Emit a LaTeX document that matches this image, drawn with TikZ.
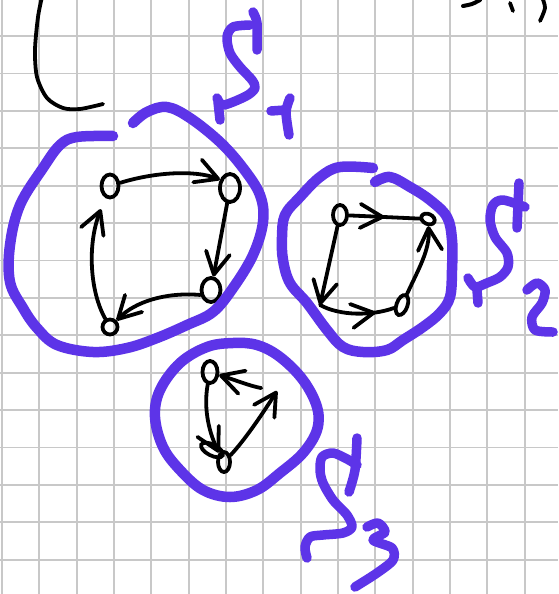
\documentclass[tikz,border=0pt]{standalone}
\usepackage{tikz}
\usetikzlibrary{arrows.meta,shapes.geometric,decorations.markings}
\definecolor{sccPurple}{RGB}{93,52,232}
\definecolor{paperGrid}{RGB}{200,200,200}

\begin{document}
\begin{tikzpicture}[x=1pt, y=1pt, yscale=-1,
  >={Straight Barb[length=22pt,width=24pt,round]},
  gridline/.style={paperGrid, line width=1.8pt},
  sccline/.style={sccPurple, line width=10.5pt, line cap=round, line join=round},
  penline/.style={sccPurple, line width=9.5pt, line cap=round, line join=round},
  inkline/.style={black, line width=3.8pt, line cap=round, line join=round},
  vtx/.style={draw, ellipse, line width=3.8pt, inner sep=0pt},
  arcline/.style={inkline, ->},
  midarc/.style={inkline, postaction={decorate},
    decoration={markings, mark=at position #1 with {\arrow{>}}}}]
  % Squared paper
  \fill[white] (0,0) rectangle (558,594);
  \useasboundingbox (0,0) rectangle (558,594);
  \clip (0,0) rectangle (558,594);
  \foreach \k in {0,...,14} \draw[gridline] ({1.96+37.34*\k},0) -- ({1.96+37.34*\k},594);
  \foreach \k in {1,...,15} \draw[gridline] (0,{-1.4+37.4*\k}) -- (558,{-1.4+37.4*\k});

  % Leftover ink at the top
  \draw[inkline] plot[smooth] coordinates {(42,-3) (38,17) (35,50) (37,77) (47,98) (63,108) (80,109) (103,104)};
  \draw[inkline, line width=4pt] plot[smooth] coordinates {(463,6) (472,4) (480,0)};
  \draw[inkline] (510,3) -- (513,11);
  \draw[inkline] plot[smooth] coordinates {(542,-3) (545,8) (540,21)};

  % S1: four vertices
  \node[vtx, minimum width=17pt, minimum height=23pt] (a1) at (110,186) {};
  \node[vtx, minimum width=20pt, minimum height=28pt] (b1) at (230,188) {};
  \node[vtx, minimum width=19pt, minimum height=24pt] (c1) at (211,290) {};
  \node[vtx, minimum width=15pt, minimum height=15pt] (d1) at (110,327) {};
  % S2: three vertices and a bare corner
  \node[vtx, minimum width=14pt, minimum height=20pt] (a2) at (340,215) {};
  \node[vtx, minimum width=14pt, minimum height=10pt, rotate=-25] (b2) at (428,219) {};
  \node[vtx, minimum width=11pt, minimum height=21pt, rotate=-20] (c2) at (402,305) {};
  \coordinate (d2) at (320,305);
  % S3: two vertices and a bare corner
  \node[vtx, minimum width=15pt, minimum height=22pt] (a3) at (210,372) {};
  \node[vtx, minimum width=12pt, minimum height=20pt] (b3) at (224,462) {};
  \node[vtx, minimum width=24pt, minimum height=11pt, rotate=-27] (b3loop) at (212,450) {};
  \coordinate (c3) at (277,391);

  % S1 cycle
  \draw[arcline] (a1) .. controls (155,172) and (195,170) .. (b1.140);
  \draw[arcline] (b1) -- (c1);
  \draw[arcline] (c1.205) .. controls (165,292) and (135,302) .. (d1);
  \draw[arcline, shorten >=12pt] (d1) .. controls (90,292) and (87,245) .. (a1);
  % S2 cycle
  \draw[midarc=0.5] (a2) -- (b2);
  \draw[arcline] (c2) .. controls (418,270) and (430,250) .. (b2);
  \draw[arcline] (a2) -- (d2);
  \draw[midarc=0.75] (d2) .. controls (340,316) and (372,316) .. (c2);
  % S3 cycle
  \draw[arcline] (a3) .. controls (203,410) and (210,435) .. (b3);
  \draw[arcline] (b3) .. controls (245,440) and (265,410) .. (c3);
  \draw[arcline, shorten <=16pt] (c3) .. controls (250,386) and (235,380) .. (a3);

  % Purple rings round the components
  \draw[sccline] plot[smooth, tension=0.6] coordinates {(113,136) (77,137) (60,145) (43,168) (20,205) (10,245) (10,282) (23,308) (37,328) (57,345) (93,352) (127,348) (157,338) (187,325) (213,312) (233,288) (253,255) (263,222) (260,195) (243,168) (220,142) (190,118) (167,107) (147,112) (133,123)};
  \draw[sccline] plot[smooth, tension=0.6] coordinates {(373,168) (340,167) (320,177) (300,197) (285,215) (282,237) (283,260) (290,283) (307,303) (327,330) (343,347) (363,352) (387,350) (403,340) (423,327) (440,313) (450,297) (452,270) (452,240) (447,217) (430,200) (410,187) (390,177) (375,182)};
  \draw[sccline] plot[smooth cycle, tension=0.6] coordinates {(233,343) (207,347) (180,363) (160,390) (155,417) (163,447) (180,470) (203,490) (230,497) (257,490) (280,473) (303,453) (317,430) (317,407) (303,380) (280,357) (257,345)};

  % Handwritten S1
  \draw[penline] plot[smooth] coordinates {(253,12) (257,23) (257,50)};
  \draw[penline] plot[smooth] coordinates {(250,25) (233,27) (227,37) (230,53) (240,67) (252,80) (255,88) (248,95) (233,102) (222,105) (217,98)};
  \draw[penline] (218,102) -- (220,120);
  \draw[penline] (271,111) -- (285,110);
  \draw[penline] plot[smooth] coordinates {(290,98) (286,112) (289,135)};
  % Handwritten S2
  \draw[penline] (519,183) -- (517,228);
  \draw[penline] plot[smooth] coordinates {(525,207) (503,200) (493,205) (490,220) (495,237) (507,253) (508,267) (500,277) (487,283) (475,287) (468,278)};
  \draw[penline] (477,290) -- (478,303);
  \draw[penline] plot[smooth] coordinates {(527,290) (537,283) (545,290) (542,303) (532,317) (535,330) (553,332)};
  % Handwritten S3
  \draw[penline] plot[smooth] coordinates {(357,438) (355,470) (349,492)};
  \draw[penline] plot[smooth] coordinates {(357,465) (347,459) (333,453) (322,457) (320,470) (323,483) (333,500) (347,515) (352,527) (343,533) (323,535) (310,537) (305,547) (307,558)};
  \draw[penline] plot[smooth] coordinates {(367,527) (378,523) (385,532) (373,540) (392,548) (393,560) (377,573) (355,587)};
\end{tikzpicture}
\end{document}
